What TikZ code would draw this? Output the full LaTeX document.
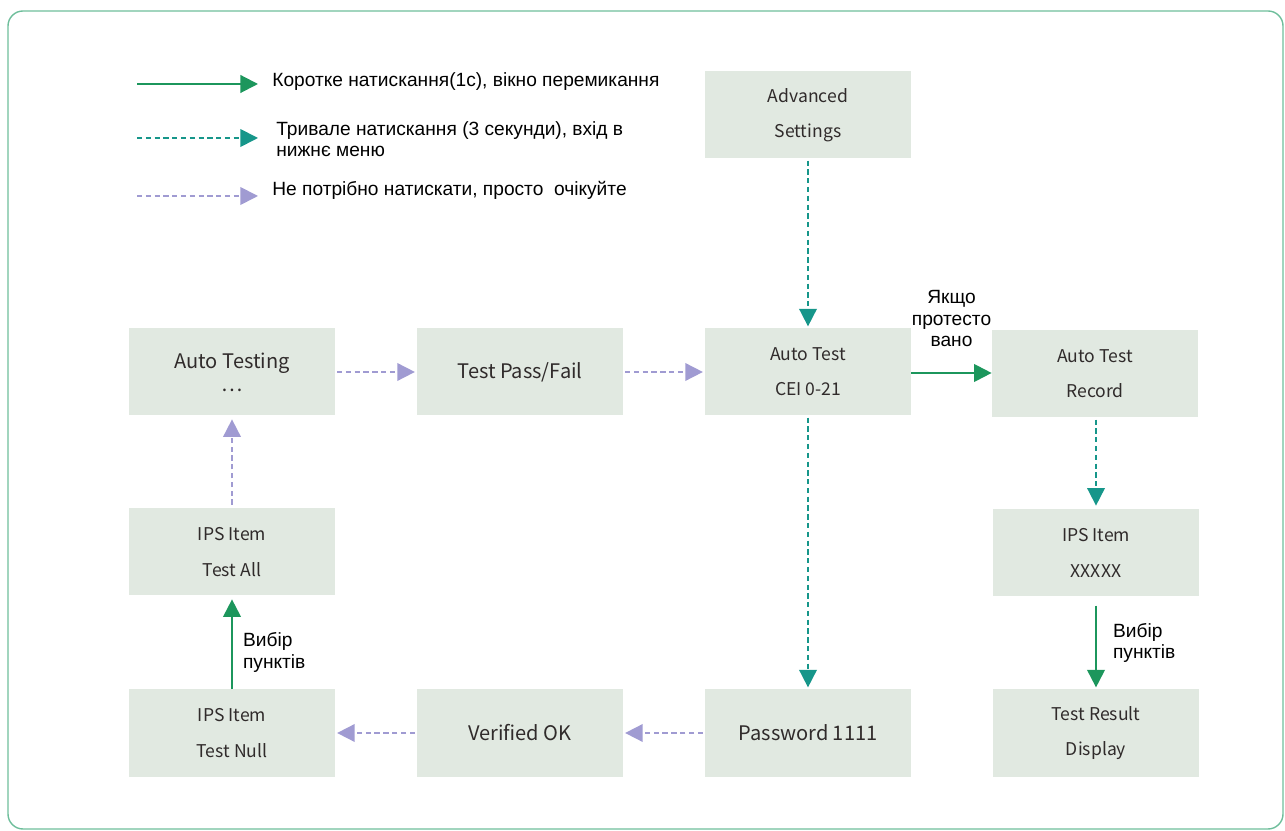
\documentclass[tikz,border=0pt]{standalone}
\usepackage{fontspec}
\setmainfont{Liberation Sans}
\newfontfamily\boxfont{Noto Sans CJK SC}
\usetikzlibrary{arrows.meta,positioning}
\definecolor{cajafondo}{RGB}{225,233,225}
\definecolor{cajatexto}{RGB}{48,43,43}
\definecolor{verde}{RGB}{28,150,92}
\definecolor{turquesa}{RGB}{22,150,138}
\definecolor{lila}{RGB}{160,155,210}
\definecolor{marco}{RGB}{110,190,155}
\tikzset{
  caja/.style={
    rectangle,
    fill=cajafondo,
    minimum width=4.12cm,
    minimum height=1.74cm,
    align=center,
    inner sep=0pt,
    text=cajatexto,
    font=\boxfont\fontsize{10}{20}\selectfont
  },
  cajagrande/.style={
    caja,
    font=\boxfont\fontsize{11.4}{15}\selectfont
  },
  etiqueta/.style={
    align=left,
    inner sep=0pt,
    font=\fontsize{10.9}{12.2}\selectfont
  },
  corto/.style={-{Triangle[length=10pt,width=10pt]},draw=verde,line width=1.2pt},
  largo/.style={-{Triangle[length=10pt,width=10pt]},draw=turquesa,line width=1pt,
    dash pattern=on 3pt off 2pt},
  espera/.style={-{Triangle[length=10pt,width=10pt]},draw=lila,line width=1pt,
    dash pattern=on 3pt off 2pt}
}

\begin{document}
\begin{tikzpicture}[x=1cm,y=1cm]

\useasboundingbox (0,0) rectangle (25.7,16.6);

% Marco
\draw[marco, line width=0.8pt, rounded corners=0.3cm] (0.16,16.38) rectangle (25.66,0.02);

% Leyenda
\coordinate (leyUnoA) at (2.74,14.92);
\coordinate (leyUnoB) at (5.16,14.92);
\coordinate (leyDosA) at (2.74,13.84);
\coordinate (leyDosB) at (5.16,13.84);
\coordinate (leyTresA) at (2.74,12.68);
\coordinate (leyTresB) at (5.16,12.68);
\draw[corto] (leyUnoA) -- (leyUnoB);
\draw[largo] (leyDosA) -- (leyDosB);
\draw[espera] (leyTresA) -- (leyTresB);
\node[etiqueta, anchor=west] (leyUnoT) at (5.44,14.96)
  {Коротке натискання(1с), вікно перемикання};
\node[etiqueta, anchor=west] (leyDosT) at (5.52,13.82)
  {Тривале натискання (3 секунди), вхід в\\нижнє меню};
\node[etiqueta, anchor=west] (leyTresT) at (5.44,12.80)
  {Не потрібно натискати, просто\ \ очікуйте};

% Fila superior
\node[caja] (avanzadoA) at (16.16,14.30) {Advanced\\Settings};

% Fila central
\node[cajagrande] (autoTestingA) at (4.64,9.16) {Auto Testing\\[-2pt]\ldots};
\node[cajagrande] (passFailA) at (10.40,9.16) {Test Pass/Fail};
\node[caja] (autoTestA) at (16.16,9.16) {Auto Test\\CEI 0-21};
\node[caja] (registroA) at (21.90,9.12) {Auto Test\\Record};

% Fila de items
\node[caja] (testAllA) at (4.64,5.56) {IPS Item\\Test All};
\node[caja] (itemXA) at (21.92,5.54) {IPS Item\\XXXXX};

% Fila inferior
\node[caja] (testNullA) at (4.64,1.94) {IPS Item\\Test Null};
\node[cajagrande] (verifiedA) at (10.40,1.94) {Verified OK};
\node[cajagrande] (passwordA) at (16.16,1.94) {Password 1111};
\node[caja] (resultadoA) at (21.92,1.94) {Test Result\\Display};

% Flujo principal
\draw[largo, shorten <=1pt, shorten >=1pt] (avanzadoA.south) -- (autoTestA.north);
\draw[espera, shorten <=1pt, shorten >=1pt] (autoTestingA.east) -- (passFailA.west);
\draw[espera, shorten <=1pt, shorten >=1pt] (passFailA.east) -- (autoTestA.west);
\draw[corto] (autoTestA.east |- 0,9.14) -- (registroA.west |- 0,9.14)
  node[midway, above=0.5cm, etiqueta, align=center] {Якщо\\протесто\\вано};

% Rama hacia Password y vuelta por abajo
\draw[largo, shorten <=1pt, shorten >=1pt] (autoTestA.south) -- (passwordA.north);
\draw[espera, shorten <=1pt, shorten >=1pt] (passwordA.west) -- (verifiedA.east);
\draw[espera, shorten <=1pt, shorten >=1pt] (verifiedA.west) -- (testNullA.east);
\draw[corto, shorten >=2pt] (testNullA.north) -- (testAllA.south)
  node[midway, right=0.2cm, yshift=-0.2cm, etiqueta] {Вибір\\пунктів};
\draw[espera, shorten <=2pt, shorten >=2pt] (testAllA.north) -- (autoTestingA.south);

% Rama del registro
\draw[largo, shorten <=1pt, shorten >=2pt] (registroA.south -| itemXA.north) -- (itemXA.north);
\draw[corto, shorten <=5pt, shorten >=1pt] (itemXA.south) -- (resultadoA.north)
  node[midway, right=0.32cm, etiqueta] {Вибір\\пунктів};

\end{tikzpicture}
\end{document}
